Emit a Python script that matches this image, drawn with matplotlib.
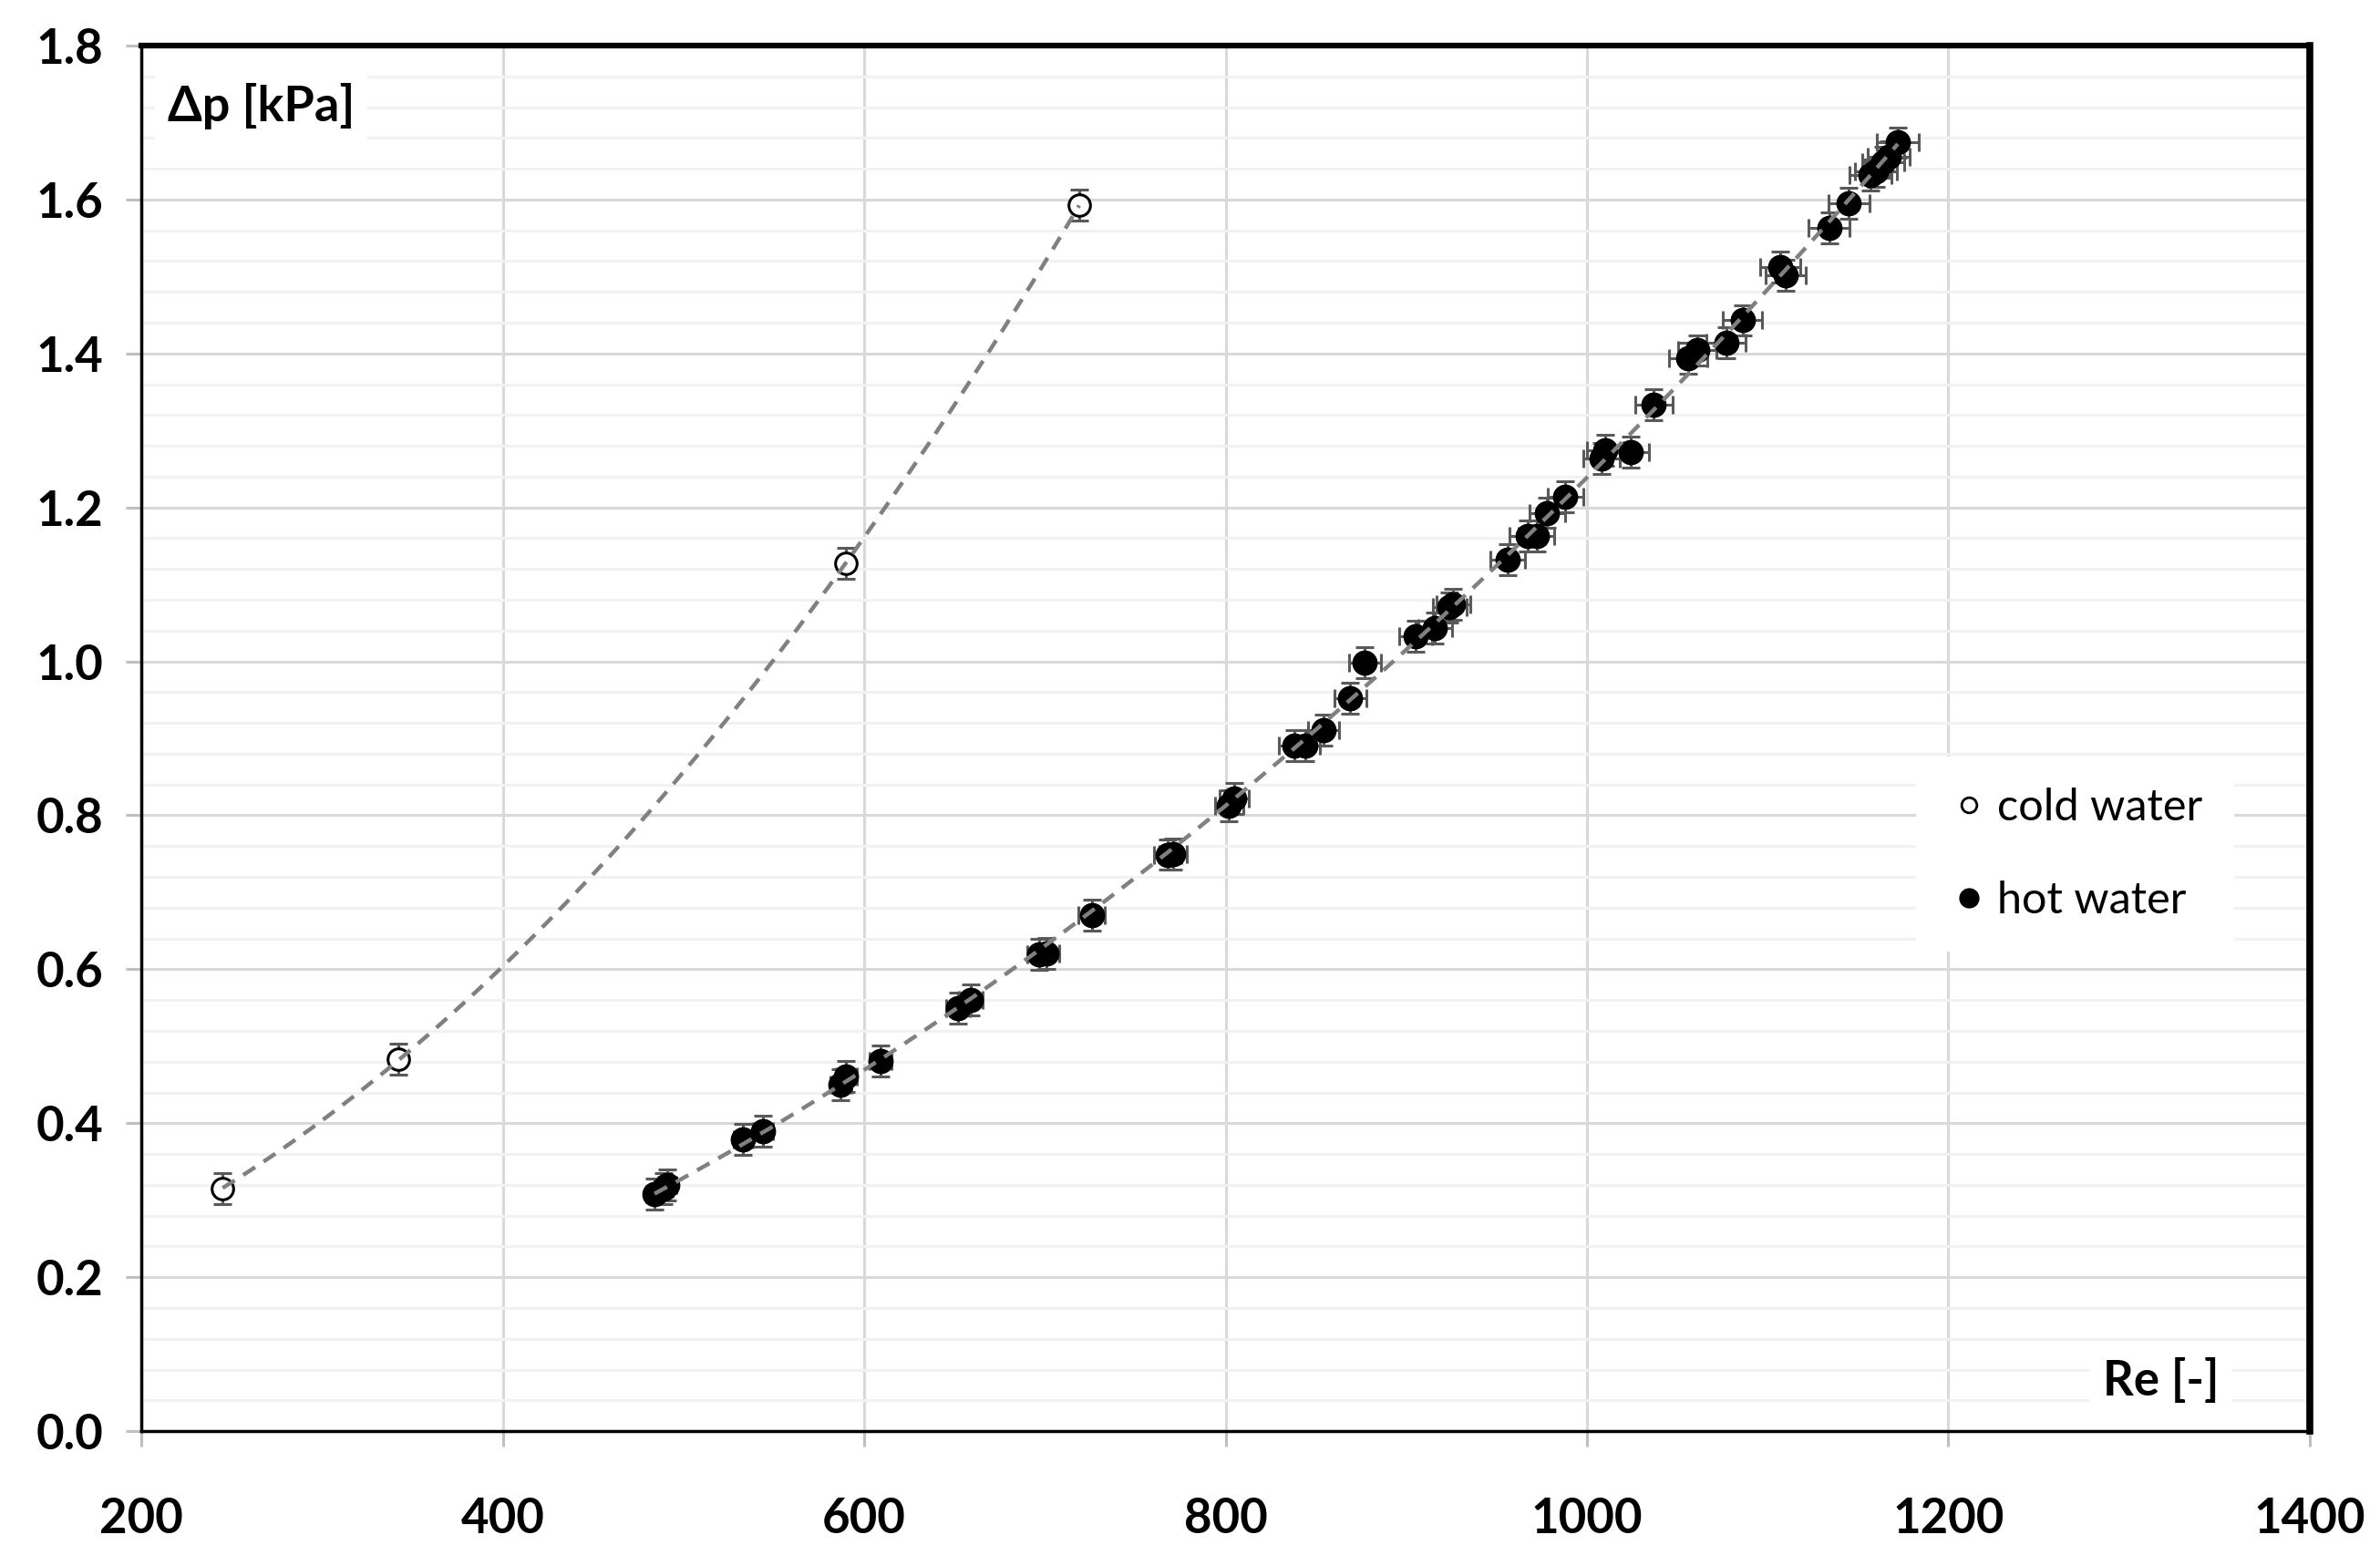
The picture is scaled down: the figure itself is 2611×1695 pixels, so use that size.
import numpy as np
import matplotlib.pyplot as plt
from matplotlib.lines import Line2D
from matplotlib.ticker import MultipleLocator

plt.rcParams['font.family'] = ['Lato', 'DejaVu Sans']

# cold water measurements
cold_re = [245, 342, 590, 719]
cold_dp = [0.315, 0.483, 1.127, 1.593]
cold_yerr = 0.02

# hot water measurements
hot_re = [484, 489, 491, 533, 544, 587, 590, 609, 652, 659, 697, 701, 726, 768, 771,
          802, 805, 838, 844, 854, 869, 877, 905, 916, 924, 926, 956, 967, 972, 978,
          988, 1008, 1010, 1024, 1037, 1056, 1061, 1077, 1086, 1107, 1110, 1134, 1145,
          1157, 1160, 1164, 1167, 1172]
hot_dp = [0.308, 0.315, 0.320, 0.379, 0.390, 0.450, 0.461, 0.481, 0.550, 0.560, 0.619,
          0.621, 0.670, 0.749, 0.750, 0.812, 0.822, 0.891, 0.891, 0.911, 0.952, 0.998,
          1.033, 1.043, 1.070, 1.074, 1.132, 1.163, 1.163, 1.193, 1.214, 1.264, 1.274,
          1.272, 1.333, 1.394, 1.404, 1.414, 1.443, 1.512, 1.502, 1.563, 1.595, 1.632,
          1.636, 1.648, 1.656, 1.674]
hot_yerr = 0.02
hot_xerr_rel = 0.01   # relative uncertainty of Re

fig = plt.figure(figsize=(26.11, 16.95), dpi=100)
ax = fig.add_axes([0.0594, 0.0737, 0.9111, 0.8968])

ebar = dict(fmt='none', ecolor='#595959', elinewidth=2.2, capsize=7, capthick=2.2, zorder=3)
ax.errorbar(cold_re, cold_dp, yerr=cold_yerr, **ebar)
ax.errorbar(hot_re, hot_dp, yerr=hot_yerr, xerr=np.array(hot_re) * hot_xerr_rel, **ebar)

ax.plot(cold_re, cold_dp, 'o', ms=17, mfc='white', mec='black', mew=2.2, zorder=4)
ax.plot(hot_re, hot_dp, 'o', ms=19, mfc='black', mec='black', zorder=4)

# polynomial trend lines (like Excel)
for xs, ys in [(cold_re, cold_dp), (hot_re, hot_dp)]:
    c = np.polyfit(xs, ys, 2)
    xx = np.linspace(min(xs), max(xs), 200)
    ax.plot(xx, np.polyval(c, xx), '--', color='#808080', lw=3.2, dashes=(3.5, 2.5), zorder=5)

ax.set_xlim(200, 1400)
ax.set_ylim(0, 1.8)
ax.xaxis.set_major_locator(MultipleLocator(200))
ax.yaxis.set_major_locator(MultipleLocator(0.2))
ax.yaxis.set_minor_locator(MultipleLocator(0.04))
ax.yaxis.set_major_formatter(lambda v, p: f'{v:.1f}')
ax.grid(True, which='major', color='#d9d9d9', lw=2.2, zorder=0)
ax.grid(True, which='minor', axis='y', color='#f2f2f2', lw=2.2, zorder=0)
ax.set_axisbelow(True)

ax.tick_params(which='major', length=12, width=2.2, color='#bfbfbf', direction='out',
               labelsize=38)
ax.tick_params(axis='y', pad=18)
ax.tick_params(axis='x', pad=40)
ax.tick_params(which='minor', length=0)
for lab in ax.get_xticklabels() + ax.get_yticklabels():
    lab.set_fontweight('bold')

for s in ['left', 'bottom']:
    ax.spines[s].set_linewidth(2.5)
ax.spines['top'].set_linewidth(4.5)
ax.spines['right'].set_linewidth(5.5)

ax.text(0.012, 0.956, 'Δp [kPa]', transform=ax.transAxes, fontsize=39, fontweight='bold',
        va='center', ha='left', bbox=dict(fc='white', ec='none', pad=10), zorder=6)
ax.text(0.958, 0.036, 'Re [-]', transform=ax.transAxes, fontsize=38, fontweight='bold',
        va='center', ha='right', bbox=dict(fc='white', ec='none', pad=10), zorder=6)

handles = [Line2D([], [], ls='none', marker='o', ms=12, mfc='white', mec='black', mew=2),
           Line2D([], [], ls='none', marker='o', ms=15, mfc='black', mec='black')]
leg = ax.legend(handles, ['cold water', 'hot water'], loc='upper left',
                bbox_to_anchor=(0.808, 0.503), fontsize=35, frameon=True, fancybox=False,
                edgecolor='none', framealpha=1, labelspacing=1.2, handletextpad=0.15,
                handlelength=1.0, borderpad=0.7)
leg.set_zorder(7)

fig.savefig('out.png', dpi=100)
